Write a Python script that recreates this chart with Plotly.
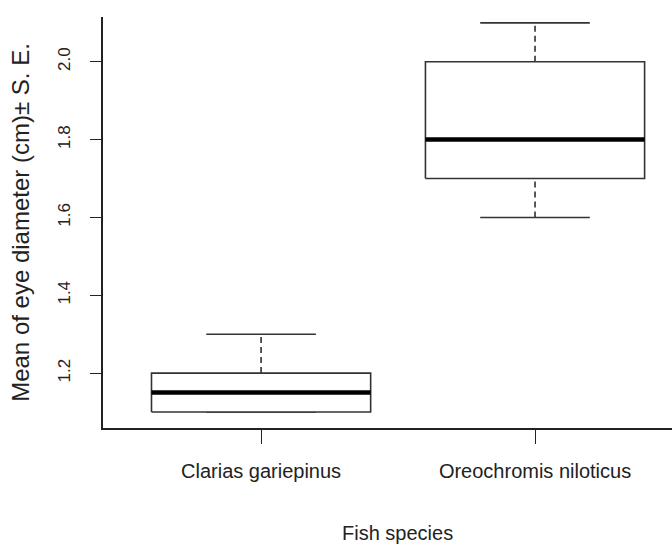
import plotly.graph_objects as go

species = ["Clarias gariepinus", "Oreochromis niloticus"]
positions = [1, 2]
lower = [1.1, 1.6]
q1 = [1.1, 1.7]
median = [1.15, 1.8]
q3 = [1.2, 2.0]
upper = [1.3, 2.1]
y_ticks = [1.2, 1.4, 1.6, 1.8, 2.0]
y_tick_labels = ["1.2", "1.4", "1.6", "1.8", "2.0"]

half_box = 0.4
half_cap = 0.2
fig = go.Figure()
for i, p in enumerate(positions):
    # whiskers (dashed)
    fig.add_trace(go.Scatter(x=[p, p], y=[q3[i], upper[i]], mode="lines",
                             line=dict(color="black", width=1.3, dash="6px,4px"), showlegend=False, hoverinfo="skip"))
    fig.add_trace(go.Scatter(x=[p, p], y=[lower[i], q1[i]], mode="lines",
                             line=dict(color="black", width=1.3, dash="6px,4px"), showlegend=False, hoverinfo="skip"))
    # caps
    for v in (lower[i], upper[i]):
        fig.add_trace(go.Scatter(x=[p - half_cap, p + half_cap], y=[v, v], mode="lines",
                                 line=dict(color="#333", width=1.6), showlegend=False, hoverinfo="skip"))
    # box
    fig.add_trace(go.Scatter(x=[p - half_box, p + half_box, p + half_box, p - half_box, p - half_box],
                             y=[q1[i], q1[i], q3[i], q3[i], q1[i]], mode="lines",
                             line=dict(color="#333", width=1.6), fill="toself", fillcolor="white",
                             showlegend=False, hoverinfo="skip"))
    # median
    fig.add_trace(go.Scatter(x=[p - half_box, p + half_box], y=[median[i], median[i]], mode="lines",
                             line=dict(color="black", width=4.5), showlegend=False, hoverinfo="skip"))

fig.update_layout(
    width=672, height=548,
    margin=dict(l=103, r=0, t=17, b=120),
    plot_bgcolor="white", paper_bgcolor="white",
    font=dict(family="Liberation Sans, Arial, sans-serif", color="#222"),
    xaxis=dict(range=[0.423, 2.5], tickvals=positions, ticktext=species,
               showline=True, linecolor="#222", linewidth=1.5, ticks="outside", ticklen=14,
               tickwidth=1.3, tickcolor="#222", showgrid=False, zeroline=False,
               tickfont=dict(size=20), ticklabelstandoff=10),
    yaxis=dict(range=[1.059, 2.115], tickvals=y_ticks, ticktext=y_tick_labels,
               showline=True, linecolor="#222", linewidth=1.5, ticks="outside", ticklen=11,
               tickwidth=1.3, tickcolor="#222", showgrid=False, zeroline=False,
               tickangle=-90, tickfont=dict(size=17), ticklabelstandoff=13,
               title=dict(text="Mean of eye diameter (cm)± S. E.", font=dict(size=24), standoff=19)),
    annotations=[dict(text="Fish species", xref="paper", yref="paper", x=0.517, y=-0.255,
                      xanchor="center", yanchor="middle", showarrow=False,
                      font=dict(size=20))],
)
fig.write_html("out.html")
